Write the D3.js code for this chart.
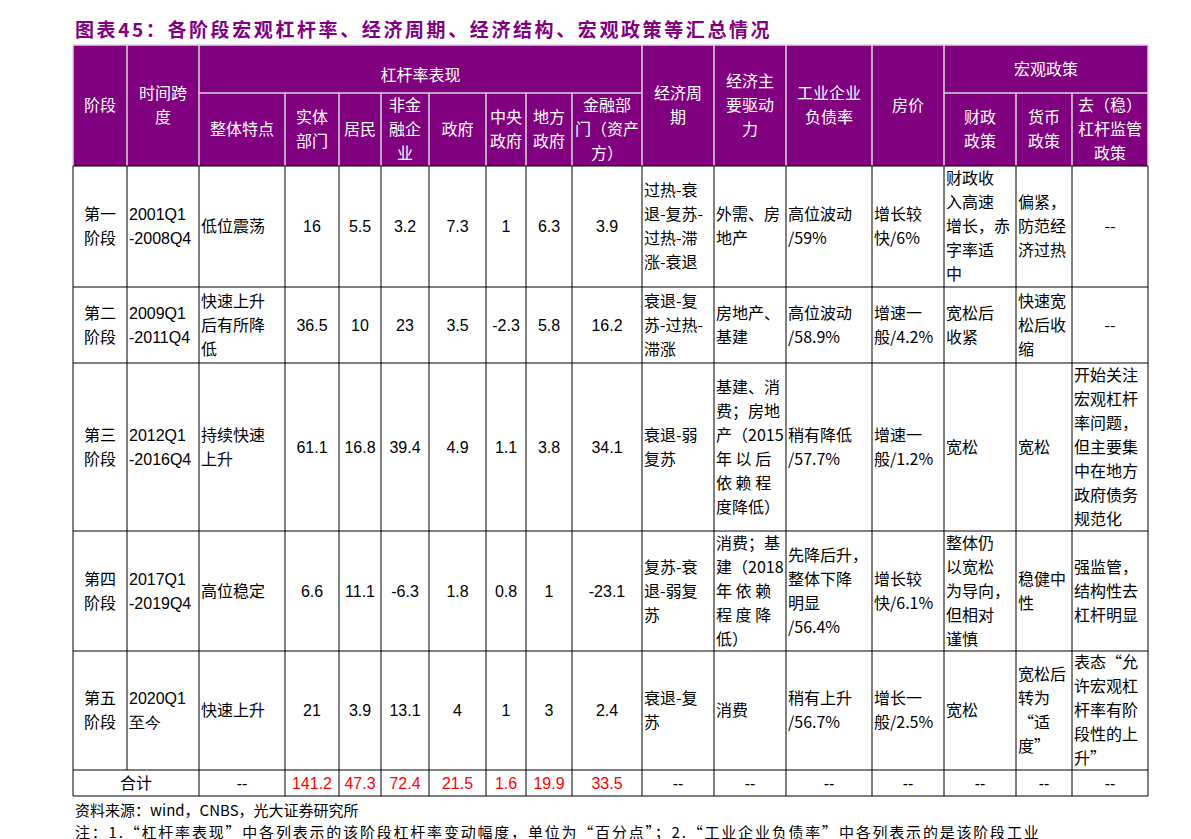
<!DOCTYPE html>
<html><head><meta charset="utf-8">
<script src="https://cdn.jsdelivr.net/npm/d3@7"></script>
<style>body{margin:0;background:#fff}</style>
</head><body><svg id="t" width="1191" height="839"></svg>
<script>
// table content
const stages = ["第一\n阶段", "第二\n阶段", "第三\n阶段", "第四\n阶段", "第五\n阶段"];
const spans = ["2001Q1\n-2008Q4", "2009Q1\n-2011Q4", "2012Q1\n-2016Q4", "2017Q1\n-2019Q4", "2020Q1\n至今"];
const features = ["低位震荡", "快速上升\n后有所降\n低", "持续快速\n上升", "高位稳定", "快速上升"];
const realSector = [16, 36.5, 61.1, 6.6, 21];
const household = [5.5, 10, 16.8, 11.1, 3.9];
const nonFinCorp = [3.2, 23, 39.4, -6.3, 13.1];
const government = [7.3, 3.5, 4.9, 1.8, 4];
const central = [1, -2.3, 1.1, 0.8, 1];
const local = [6.3, 5.8, 3.8, 1, 3];
const financial = [3.9, 16.2, 34.1, -23.1, 2.4];
const cycle = ["过热-衰\n退-复苏-\n过热-滞\n涨-衰退", "衰退-复\n苏-过热-\n滞涨", "衰退-弱\n复苏", "复苏-衰\n退-弱复\n苏", "衰退-复\n苏"];
const drivers = ["外需、房\n地产", "房地产、\n基建", "基建、消\n费；房地\n产（2015\n年 以 后\n依 赖 程\n度降低）", "消费；基\n建（2018\n年 依 赖\n程 度 降\n低）", "消费"];
const debtRatio = ["高位波动\n/59%", "高位波动\n/58.9%", "稍有降低\n/57.7%", "先降后升，\n整体下降\n明显\n/56.4%", "稍有上升\n/56.7%"];
const housing = ["增长较\n快/6%", "增速一\n般/4.2%", "增速一\n般/1.2%", "增长较\n快/6.1%", "增长一\n般/2.5%"];
const fiscal = ["财政收\n入高速\n增长，赤\n字率适\n中", "宽松后\n收紧", "宽松", "整体仍\n以宽松\n为导向，\n但相对\n谨慎", "宽松"];
const monetary = ["偏紧，\n防范经\n济过热", "快速宽\n松后收\n缩", "宽松", "稳健中\n性", "宽松后\n转为\n“适\n度”"];
const supervision = ["--", "--", "开始关注\n宏观杠杆\n率问题，\n但主要集\n中在地方\n政府债务\n规范化", "强监管，\n结构性去\n杠杆明显", "表态“允\n许宏观杠\n杆率有阶\n段性的上\n升”"];
const totals = [141.2, 47.3, 72.4, 21.5, 1.6, 19.9, 33.5];
const headers = ["阶段", "时间跨\n度", "整体特点", "实体\n部门", "居民", "非金\n融企\n业", "政府", "中央\n政府", "地方\n政府", "金融部\n门（资产\n方）",
  "经济周\n期", "经济主\n要驱动\n力", "工业企业\n负债率", "房价", "财政\n政策", "货币\n政策", "去（稳）\n杠杆监管\n政策"];

// layout
const colEdges = [73, 127, 199, 285, 339, 381, 429, 486, 526, 572, 642, 714, 786, 872, 944, 1016, 1072, 1148];
const rowEdges = [166, 287, 363, 531, 651, 770, 796];
const PURPLE = "#800080";
const svg = d3.select("#t");
const CJK = "'Noto Sans CJK SC', sans-serif";
const NUM = "'Liberation Sans', Arial, sans-serif";

const x = d3.scaleLinear().domain([0, colEdges.length - 1]).range([0, colEdges.length - 1]);
const cx = i => colEdges[x(i)];

function multi(g, txt, px, py, anchor, color, font, lh) {
  const lines = String(txt).split("\n");
  const t = g.append("text").attr("x", px).attr("text-anchor", anchor).attr("fill", color)
    .style("font-family", font).style("font-size", "16px");
  lines.forEach((l, k) => t.append("tspan").attr("x", px)
    .attr("y", py + (k - (lines.length - 1) / 2) * lh).attr("dy", "0.36em").text(l));
}

svg.append("text").attr("x", 75).attr("y", 37).attr("fill", PURPLE)
  .style("font-family", CJK).style("font-size", "19px").style("font-weight", "bold")
  .style("letter-spacing", "2.6px")
  .text("图表45：各阶段宏观杠杆率、经济周期、经济结构、宏观政策等汇总情况");

// header background
const hTop = 45, hMid = 93, hBot = 166;
svg.append("rect").attr("x", colEdges[0]).attr("y", hTop).attr("width", colEdges[17] - colEdges[0])
  .attr("height", hBot - hTop).attr("fill", PURPLE);
const hl = svg.append("g").attr("stroke", "#d9d9d9").attr("stroke-width", 1.5);
hl.append("line").attr("x1", colEdges[0]).attr("x2", colEdges[17]).attr("y1", hTop).attr("y2", hTop);
hl.append("line").attr("x1", cx(2)).attr("x2", cx(10)).attr("y1", hMid).attr("y2", hMid);
hl.append("line").attr("x1", cx(14)).attr("x2", cx(17)).attr("y1", hMid).attr("y2", hMid);
colEdges.forEach((e, i) => {
  const inGroup = (i > 2 && i < 10) || (i > 14 && i < 17);
  hl.append("line").attr("x1", e).attr("x2", e).attr("y1", inGroup ? hMid : hTop).attr("y2", hBot);
});
const hg = svg.append("g");
multi(hg, "杠杆率表现", (cx(2) + cx(10)) / 2, (hTop + hMid) / 2 + 6, "middle", "#fff", CJK, 24);
multi(hg, "宏观政策", (cx(14) + cx(17)) / 2, (hTop + hMid) / 2, "middle", "#fff", CJK, 24);
headers.forEach((h, i) => {
  const sub = (i >= 2 && i < 10) || i >= 14;
  const yc = sub ? (hMid + hBot) / 2 : (hTop + hBot) / 2;
  multi(hg, h, (cx(i) + cx(i + 1)) / 2, yc, "middle", "#fff", CJK, 24);
});

// body grid
const grid = svg.append("g").attr("stroke", "#000").attr("stroke-width", 1);
rowEdges.forEach(r => grid.append("line").attr("x1", colEdges[0]).attr("x2", colEdges[17]).attr("y1", r).attr("y2", r));
colEdges.forEach((e, i) => grid.append("line").attr("x1", e).attr("x2", e).attr("y1", hBot)
  .attr("y2", i === 1 ? rowEdges[5] : rowEdges[6]));

const cols = [stages, spans, features, realSector, household, nonFinCorp, government, central, local, financial,
  cycle, drivers, debtRatio, housing, fiscal, monetary, supervision];
const body = svg.append("g");
stages.forEach((_, r) => {
  const yc = (rowEdges[r] + rowEdges[r + 1]) / 2;
  cols.forEach((col, c) => {
    const v = col[r];
    const numeric = typeof v === "number";
    const center = numeric || c === 0 || v === "--";
    const px = center ? (cx(c) + cx(c + 1)) / 2 : cx(c) + 2;
    multi(body, v, px, yc, center ? "middle" : "start", "#000", numeric || c === 1 ? NUM : CJK, 24);
  });
});
// totals row
const ty = (rowEdges[5] + rowEdges[6]) / 2;
multi(body, "合计", (cx(0) + cx(2)) / 2, ty, "middle", "#000", CJK, 24);
multi(body, "--", (cx(2) + cx(3)) / 2, ty, "middle", "#000", NUM, 24);
totals.forEach((v, k) => multi(body, v, (cx(3 + k) + cx(4 + k)) / 2, ty, "middle", "#ff0000", NUM, 24));
for (let c = 10; c < 17; c++) multi(body, "--", (cx(c) + cx(c + 1)) / 2, ty, "middle", "#000", NUM, 24);

svg.append("text").attr("x", 75).attr("y", 816).style("font-family", CJK).style("font-size", "15px")
  .text("资料来源：wind，CNBS，光大证券研究所");
svg.append("text").attr("x", 75).attr("y", 838).style("font-family", CJK).style("font-size", "15px")
  .style("letter-spacing", "1.8px")
  .text("注：1.“杠杆率表现”中各列表示的该阶段杠杆率变动幅度，单位为“百分点”；2.“工业企业负债率”中各列表示的是该阶段工业");
</script></body></html>
